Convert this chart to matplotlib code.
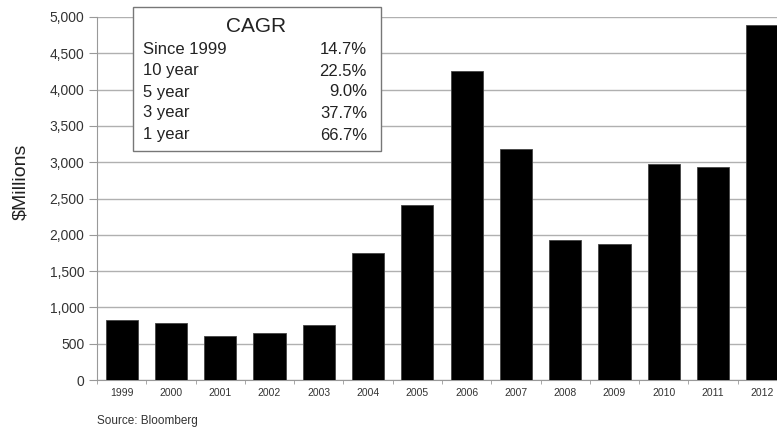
import numpy as np
import matplotlib.pyplot as plt
from matplotlib.patches import Rectangle
from matplotlib.ticker import FuncFormatter, FixedLocator

plt.rcParams['font.family'] = ['Liberation Sans', 'DejaVu Sans']

# -------------------------------
# Data
# -------------------------------
years = [str(y) for y in range(1999, 2013)]
values = [822, 781, 606, 643, 753, 1753, 2415, 4256, 3180, 1928, 1874, 2975, 2935, 4892]

cagr_labels = ["Since 1999", "10 year", "5 year", "3 year", "1 year"]
cagr_values = ["14.7%", "22.5%", "9.0%", "37.7%", "66.7%"]

W, H = 777, 430
fig = plt.figure(figsize=(W / 100, H / 100), dpi=100)
ax = fig.add_axes([97 / W, (H - 380) / H, 690 / W, 363 / H])

x = np.arange(len(years))
ax.bar(x, values, width=0.655, color="black", edgecolor="#444444", linewidth=0.6, zorder=3)

ax.set_xlim(-0.5, len(years) - 0.5)
ax.set_ylim(0, 5000)
ax.set_yticks(np.arange(0, 5001, 500))
ax.yaxis.set_major_formatter(FuncFormatter(lambda v, p: f"{int(v):,}"))
ax.grid(axis="y", color="#b0b0b0", linewidth=1.0, zorder=0)

ax.set_xticks(x)
ax.set_xticklabels(years, fontsize=7.5, color="#333333")
ax.xaxis.set_minor_locator(FixedLocator(np.arange(-0.5, len(years), 1)))
ax.tick_params(axis="x", which="major", length=0, pad=6)
ax.tick_params(axis="x", which="minor", length=3, color="#999999")
ax.tick_params(axis="y", length=6, color="#999999", labelsize=10, labelcolor="#333333", pad=3)

for s in ["top", "right"]:
    ax.spines[s].set_visible(False)
ax.spines["left"].set_color("#999999")
ax.spines["bottom"].set_color("#999999")

fig.text(21 / W, 1 - 182 / H, "$Millions", fontsize=14, rotation=90,
         ha="center", va="center", color="#222222")

# -------------------------------
# CAGR box
# -------------------------------
box = Rectangle((133 / W, 1 - 151 / H), (381 - 133) / W, (151 - 7) / H,
                transform=fig.transFigure, facecolor="white",
                edgecolor="#777777", linewidth=1.0, zorder=10)
fig.add_artist(box)
fig.text(256 / W, 1 - 26 / H, "CAGR", fontsize=15, ha="center", va="center",
         color="#222222", zorder=11)
row_y = [50, 71, 92, 113, 135]
for lab, val, yy in zip(cagr_labels, cagr_values, row_y):
    fig.text(143 / W, 1 - yy / H, lab, fontsize=12, ha="left", va="center",
             color="#222222", zorder=11)
    fig.text(367 / W, 1 - yy / H, val, fontsize=12, ha="right", va="center",
             color="#222222", zorder=11)

fig.text(97 / W, 1 - 421 / H, "Source: Bloomberg", fontsize=8.5, ha="left",
         va="center", color="#333333")

fig.savefig("out.png", dpi=100)
